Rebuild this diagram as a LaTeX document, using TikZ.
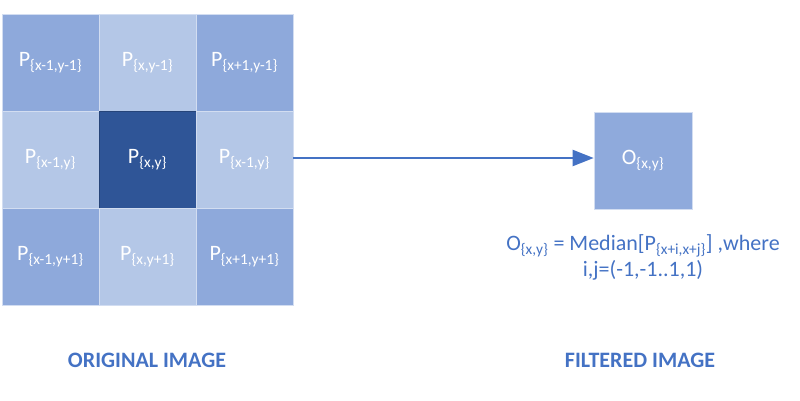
\documentclass[tikz,border=0pt]{standalone}
\usepackage{fontspec}
\setmainfont{Carlito}
\usetikzlibrary{arrows.meta}
\definecolor{cdark}{HTML}{8EA9DB}
\definecolor{clight}{HTML}{B4C7E7}
\definecolor{ccenter}{HTML}{2F5597}
\definecolor{cout}{HTML}{8FAADC}
\definecolor{cblue}{HTML}{4472C4}
\tikzset{
  cell/.style={minimum width=97pt, minimum height=97pt, inner sep=0pt, draw=white!40!clight, line width=0.6pt, text=white, font=\fontsize{22}{26}\selectfont},
  darkcell/.style={cell, fill=cdark},
  lightcell/.style={cell, fill=clight},
  centercell/.style={cell, fill=ccenter, draw=ccenter!80!black},
  outcell/.style={cell, fill=cout, minimum width=98pt},
  formula/.style={text=cblue, font=\fontsize{22}{26}\selectfont, align=center},
  caption/.style={text=cblue, font=\fontsize{22}{26}\selectfont\bfseries},
  link/.style={cblue, line width=2pt, -{Triangle[length=21pt,width=16pt]}}
}
\newcommand{\sbs}[1]{\textsubscript{\{#1\}}}
\begin{document}
\begin{tikzpicture}[x=1pt,y=-1pt]
\useasboundingbox (0,0) rectangle (800,400);
\node[darkcell]   (a11) at (50.5,62.5)  {P\sbs{x-1,y-1}};
\node[lightcell]  (a12) at (147.5,62.5) {P\sbs{x,y-1}};
\node[darkcell]   (a13) at (244.5,62.5) {P\sbs{x+1,y-1}};
\node[lightcell]  (a21) at (50.5,159.5)  {P\sbs{x-1,y}};
\node[centercell] (a22) at (147.5,159.5) {P\sbs{x,y}};
\node[lightcell]  (a23) at (244.5,159.5) {P\sbs{x-1,y}};
\node[darkcell]   (a31) at (50.5,256.5)  {P\sbs{x-1,y+1}};
\node[lightcell]  (a32) at (147.5,256.5) {P\sbs{x,y+1}};
\node[darkcell]   (a33) at (244.5,256.5) {P\sbs{x+1,y+1}};
\node[outcell] (out) at (643,160.5) {O\sbs{x,y}};
\draw[link] (a23.east |- 0,158) -- (out.west |- 0,158);
\node[formula] (f) at (643,257) {O\sbs{x,y} = Median[P\sbs{x+i,x+j}] ,where\\ i,j=(-1,-1..1,1)};
\node[caption] (c1) at (147,360) {ORIGINAL IMAGE};
\node[caption] (c2) at (640,360) {FILTERED IMAGE};
\end{tikzpicture}
\end{document}
